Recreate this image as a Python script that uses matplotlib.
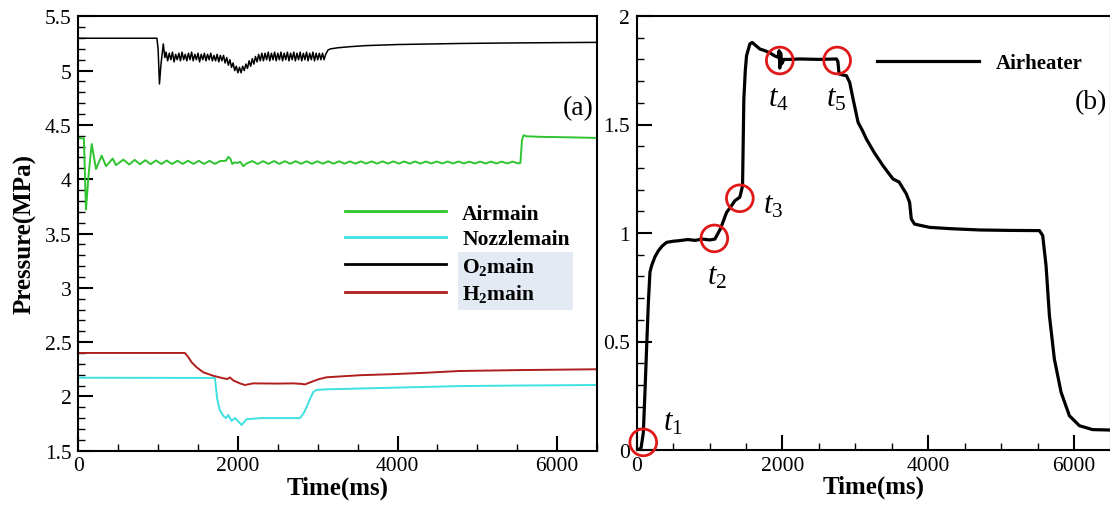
import matplotlib
matplotlib.use('Agg')
import matplotlib.pyplot as plt
from matplotlib.ticker import MultipleLocator, FuncFormatter
from matplotlib.patches import Rectangle

plt.rcParams['font.family'] = ['Liberation Serif', 'DejaVu Serif']
plt.rcParams['mathtext.fontset'] = 'custom'
plt.rcParams['mathtext.rm'] = 'Liberation Serif'
plt.rcParams['mathtext.it'] = 'Liberation Serif:italic'
plt.rcParams['mathtext.bf'] = 'Liberation Serif:bold'

# ---- panel (a) data, time in ms, pressure in MPa ----
t_air = [0, 70, 96, 130, 168, 222, 293, 347, 431, 472, 564, 639,
         706, 773, 840, 907, 974, 1041, 1108, 1175, 1242, 1309, 1376, 1443,
         1510, 1577, 1644, 1711, 1778, 1850, 1879, 1905, 1929, 1960, 1996,
         2030, 2067, 2110,
         2180, 2248, 2316, 2384, 2452, 2520, 2588, 2656, 2724, 2792, 2860,
         2928, 2996, 3064, 3132, 3200, 3268, 3336, 3404, 3472, 3540, 3608,
         3676, 3744, 3812, 3880, 3948, 4016, 4084, 4152, 4220, 4288, 4356,
         4424, 4492, 4560, 4628, 4696, 4764, 4832, 4900, 4968, 5036, 5104,
         5172, 5240, 5308, 5376, 5444, 5512, 5540, 5560, 5580, 5620, 5800,
         6200, 6500]
p_air = [4.377, 4.377, 3.72, 4.05, 4.324, 4.094, 4.217, 4.12, 4.19, 4.13, 4.18, 4.135,
         4.178, 4.138, 4.175, 4.138, 4.173, 4.14, 4.172, 4.14, 4.17, 4.141, 4.17, 4.141,
         4.169, 4.141, 4.169, 4.141, 4.167, 4.17, 4.205, 4.19, 4.14, 4.155, 4.15,
         4.16, 4.12, 4.145,
         4.167, 4.14, 4.166, 4.141, 4.167, 4.141, 4.166, 4.142, 4.166, 4.142, 4.165,
         4.142, 4.165, 4.143, 4.165, 4.143, 4.165, 4.143, 4.164, 4.143, 4.164, 4.144,
         4.164, 4.144, 4.164, 4.144, 4.164, 4.144, 4.163, 4.144, 4.163, 4.144, 4.163,
         4.145, 4.163, 4.145, 4.163, 4.145, 4.163, 4.145, 4.162, 4.145, 4.162, 4.145,
         4.162, 4.145, 4.162, 4.145, 4.162, 4.146, 4.15, 4.36, 4.405, 4.395, 4.39,
         4.385, 4.38]

t_noz = [0, 1712, 1740, 1770, 1816, 1850, 1878, 1921, 1963, 2005, 2046, 2109, 2200,
         2276, 2500, 2777, 2820, 2860, 2900, 2944, 2985, 3110, 3500, 3945, 4780, 5500, 6500]
p_noz = [2.172, 2.170, 1.98, 1.88, 1.822, 1.80, 1.828, 1.776, 1.80, 1.77, 1.737, 1.79, 1.795,
         1.80, 1.80, 1.80, 1.84, 1.90, 1.97, 2.04, 2.06, 2.065, 2.072, 2.08, 2.095, 2.10, 2.105]

t_o2 = [0, 985, 1000, 1017, 1035, 1065, 1085,
        1100, 1120, 1140, 1160, 1180, 1200, 1220, 1240, 1260, 1280, 1300, 1320, 1340,
        1360, 1380, 1400, 1420, 1440, 1460, 1480, 1500, 1520, 1540, 1560, 1580, 1600,
        1620, 1640, 1660, 1680, 1700, 1720, 1740, 1760, 1780, 1800, 1820, 1840,
        1860, 1880, 1900, 1920, 1940, 1960, 1980, 2000, 2020, 2040, 2060, 2080, 2100,
        2120, 2140, 2160, 2180, 2200, 2220, 2240, 2260, 2280, 2300,
        2320, 2340, 2360, 2380, 2400, 2420, 2440, 2460, 2480, 2500, 2520, 2540, 2560,
        2580, 2600, 2620, 2640, 2660, 2680, 2700, 2720, 2740, 2760, 2780, 2800, 2820,
        2840, 2860, 2880, 2900, 2920, 2940, 2960, 2980, 3000, 3020, 3040, 3060, 3080,
        3100,
        3130, 3160, 3250, 3400, 3600, 4000, 4800, 5500, 6500]
p_o2 = [5.298, 5.298, 5.2, 4.877, 5.05, 5.245, 5.12,
        5.17, 5.09, 5.16, 5.10, 5.17, 5.08, 5.15, 5.10, 5.16, 5.09, 5.17, 5.10, 5.15,
        5.09, 5.16, 5.10, 5.17, 5.09, 5.15, 5.10, 5.16, 5.08, 5.15, 5.10, 5.16, 5.09,
        5.15, 5.10, 5.16, 5.09, 5.14, 5.09, 5.15, 5.08, 5.14, 5.09, 5.14, 5.07,
        5.12, 5.05, 5.10, 5.03, 5.07, 5.00, 5.04, 4.98, 5.03, 4.98, 5.04, 5.00, 5.06,
        5.02, 5.09, 5.04, 5.11, 5.06, 5.13, 5.08, 5.15, 5.09, 5.16,
        5.09, 5.16, 5.10, 5.17, 5.09, 5.16, 5.10, 5.17, 5.09, 5.16, 5.10, 5.17, 5.09,
        5.16, 5.10, 5.17, 5.09, 5.16, 5.10, 5.17, 5.09, 5.16, 5.10, 5.17, 5.09, 5.16,
        5.10, 5.17, 5.09, 5.16, 5.10, 5.17, 5.09, 5.16, 5.10, 5.16, 5.10, 5.16, 5.10,
        5.15,
        5.19, 5.20, 5.21, 5.22, 5.23, 5.24, 5.25, 5.255, 5.26]

t_h2 = [0, 1336, 1380, 1420, 1483, 1566, 1691, 1816, 1870, 1900, 1942, 2025, 2088,
        2192, 2500, 2693, 2800, 2839, 2944, 3020, 3110, 3528, 3945, 4363, 4780, 5500, 6500]
p_h2 = [2.40, 2.40, 2.36, 2.314, 2.268, 2.222, 2.19, 2.167, 2.16, 2.175, 2.147, 2.12, 2.105,
        2.12, 2.118, 2.12, 2.115, 2.11, 2.14, 2.16, 2.176, 2.195, 2.205, 2.218, 2.234, 2.242, 2.25]

# ---- panel (b) data ----
t_heat = [0, 20, 60, 91, 115, 137, 160, 182, 205, 250, 297, 350, 411, 500, 593, 700,
          800, 900, 1000, 1073, 1150, 1233, 1300, 1347, 1415, 1440, 1452, 1470, 1490,
          1507, 1552, 1584, 1640, 1689, 1760, 1826, 1900, 1940, 1955, 1963, 1975, 1990,
          2020, 2100, 2237, 2500, 2740, 2760, 2776, 2830, 2877, 2922, 2968, 3037, 3100,
          3151, 3260, 3379, 3516, 3600, 3699, 3744, 3767, 3812, 4018, 4300, 4703, 5100,
          5525, 5570, 5616, 5662, 5730, 5822, 5936, 6073, 6255, 6500]
p_heat = [0.0, 0.0, 0.01, 0.08, 0.28, 0.48, 0.68, 0.82, 0.85, 0.89, 0.918, 0.94, 0.957,
          0.962, 0.965, 0.97, 0.966, 0.972, 0.968, 0.972, 1.02, 1.095, 1.125, 1.149, 1.165,
          1.20, 1.218, 1.618, 1.75, 1.817, 1.871, 1.878, 1.862, 1.848, 1.84, 1.83, 1.815,
          1.81, 1.84, 1.76, 1.83, 1.78, 1.80, 1.80, 1.802, 1.80, 1.802, 1.79, 1.733, 1.728,
          1.725, 1.694, 1.618, 1.51, 1.47, 1.433, 1.37, 1.31, 1.249, 1.235, 1.18, 1.141,
          1.065, 1.041, 1.026, 1.02, 1.014, 1.012, 1.011, 0.988, 0.849, 0.619, 0.419,
          0.266, 0.158, 0.112, 0.094, 0.092]

# marked instants t1..t5
mark_t = [90, 1065, 1415, 1963, 2750]
mark_p = [0.035, 0.975, 1.16, 1.795, 1.795]
mark_labels = [r'$t_{\mathrm{1}}$', r'$t_{\mathrm{2}}$', r'$t_{\mathrm{3}}$',
               r'$t_{\mathrm{4}}$', r'$t_{\mathrm{5}}$']
label_t = [360, 960, 1730, 1800, 2600]
label_p = [0.13, 0.80, 1.13, 1.62, 1.62]

fig = plt.figure(figsize=(11.1, 5.06), dpi=100)
W, H = 1110, 506
ax1 = fig.add_axes([78.3 / W, 54.3 / H, 518.7 / W, 434.4 / H])
ax2 = fig.add_axes([636.7 / W, 55 / H, 473.8 / W, 434 / H])

fmt = FuncFormatter(lambda v, p: '%g' % v)


def style(ax):
    for s in ax.spines.values():
        s.set_linewidth(1.5)
    ax.tick_params(which='both', direction='in', top=False, right=False, width=1.5,
                   labelsize=15.5)
    ax.tick_params(which='major', length=11)
    ax.tick_params(which='minor', length=5, width=1)
    ax.tick_params(axis='x', pad=4)
    ax.tick_params(axis='y', pad=5)
    ax.xaxis.set_major_locator(MultipleLocator(2000))
    ax.xaxis.set_minor_locator(MultipleLocator(500))
    ax.yaxis.set_major_locator(MultipleLocator(0.5))
    ax.yaxis.set_minor_locator(MultipleLocator(0.1))
    ax.yaxis.set_major_formatter(fmt)
    ax.set_xlim(0, 6500)
    ax.set_xlabel('Time(ms)', fontsize=18, fontweight='bold', labelpad=0)


# ---- (a) ----
ax1.plot(t_air, p_air, color='#2fc42f', lw=1.4, label='Airmain')
ax1.plot(t_noz, p_noz, color='#3fe0e0', lw=1.4, label='Nozzlemain')
ax1.plot(t_o2, p_o2, color='black', lw=1.1, label=r'$\mathbf{O}_{\mathbf{2}}$main')
ax1.plot(t_h2, p_h2, color='#b01e1e', lw=1.4, label=r'$\mathbf{H}_{\mathbf{2}}$main')
style(ax1)
ax1.set_ylim(1.5, 5.5)
ax1.set_ylabel('Pressure(MPa)', fontsize=18, fontweight='bold')
ax1.yaxis.set_label_coords(-0.08, 0.5)
ax1.add_patch(Rectangle(((458.3 - 78.3) / 518.7, (451.7 - 310.7) / 434.4),
                        114.4 / 518.7, 57.4 / 434.4, transform=ax1.transAxes,
                        facecolor='#e4eaf4', edgecolor='none', zorder=0.5))
leg1 = ax1.legend(loc='upper left', bbox_to_anchor=(0.514, 0.568), frameon=False,
                  prop={'family': 'Liberation Serif', 'weight': 'bold', 'size': 15.5},
                  handlelength=4.7, handletextpad=0.75, labelspacing=0.25,
                  borderpad=0, borderaxespad=0)
for h in leg1.legend_handles:
    h.set_linewidth(2)
ax1.text(0.993, 0.79, '(a)', transform=ax1.transAxes, fontsize=20,
         ha='right', va='center')

# ---- (b) ----
ax2.plot(t_heat, p_heat, color='black', lw=2.3, label='Airheater')
ax2.scatter(mark_t, mark_p, s=370, facecolors='none', edgecolors='#e01818',
            linewidths=2, zorder=3, clip_on=False)
for x, y, s in zip(label_t, label_p, mark_labels):
    ax2.text(x, y, s, fontsize=22, ha='left', va='center')
style(ax2)
ax2.set_ylim(0, 2)
ax2.legend(loc='center left', bbox_to_anchor=(0.507, 0.892), frameon=False,
           prop={'family': 'Liberation Serif', 'weight': 'bold', 'size': 15},
           handlelength=4.9, handletextpad=0.8, borderpad=0, borderaxespad=0)
ax2.text(0.993, 0.803, '(b)', transform=ax2.transAxes, fontsize=20,
         ha='right', va='center')

fig.savefig('out.png', dpi=100)
